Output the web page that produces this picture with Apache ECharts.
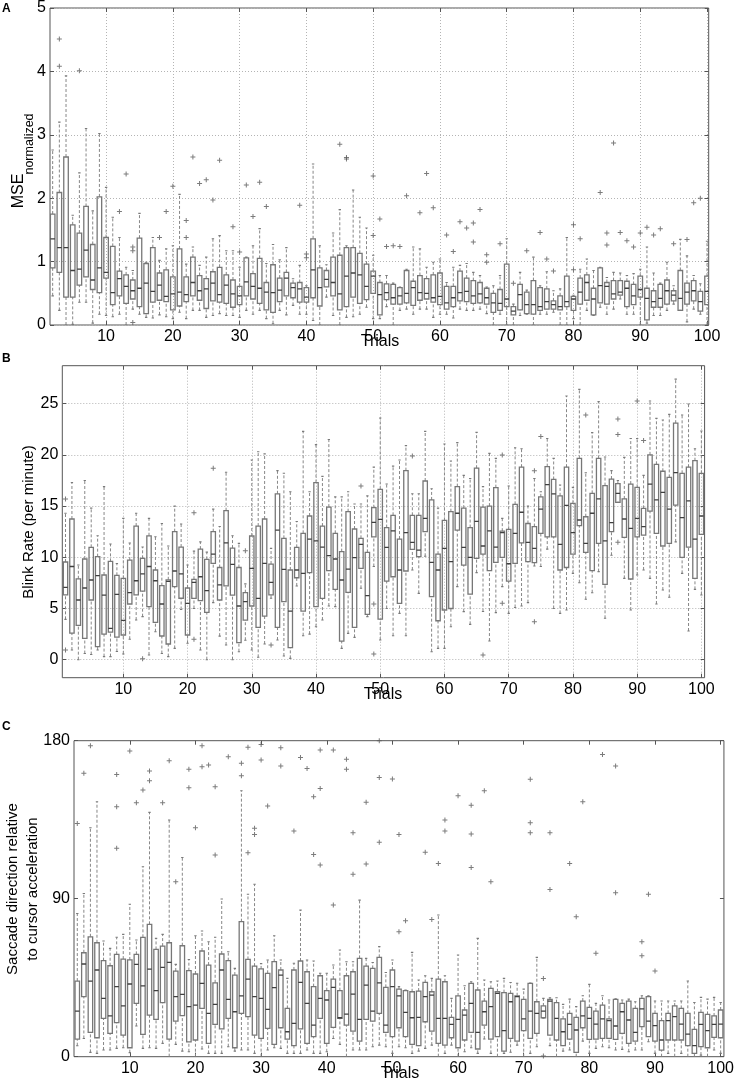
<!DOCTYPE html>
<html><head><meta charset="utf-8">
<script src="https://cdn.jsdelivr.net/npm/echarts@6/dist/echarts.min.js"></script>
<style>html,body{margin:0;padding:0;background:#fff}#c{width:737px;height:1082px}</style>
</head><body><div id="c"></div>
<script>
// ---------- data ----------
const trials = []; for (let t = 1; t <= 100; t++) trials.push(t);
const xTickValues = [10,20,30,40,50,60,70,80,90,100];
const aYTicks = [0,1,2,3,4,5];
const bYTicks = [0,5,10,15,20,25];
const cYTicks = [0,90,180];

// Panel A: MSE normalized
const aLow = [0.45,0.46,0.23,0.0,0.01,0.36,0.36,0.03,0.17,0.15, 0.13,0.17,0.0,0.25,0.17,0.12,0.11,0.16,0.13,0.10, 0.20,0.10,0.23,0.23,0.12,0.15,0.18,0.15,0.15,0.12, 0.23,0.17,0.23,0.10,0.02,0.23,0.16,0.31,0.17,0.17, 0.07,0.0,0.44,0.15,0.0,0.12,0.13,0.17,0.28,0.10, 0.10,0.29,0.0,0.23,0.25,0.17,0.25,0.25,0.12,0.17, 0.17,0.11,0.25,0.23,0.23,0.25,0.18,0.0,0.17,0.0, 0.0,0.15,0.17,0.0,0.17,0.17,0.20,0.0,0.0,0.10, 0.0,0.23,0.15,0.28,0.17,0.25,0.41,0.17,0.17,0.0, 0.03,0.15,0.15,0.23,0.33,0.23,0.05,0.25,0.17,0.0];
const aQ1 = [0.95,0.90,0.83,0.44,0.44,0.63,0.76,0.56,0.51,0.74, 0.32,0.46,0.34,0.41,0.29,0.18,0.36,0.39,0.37,0.24, 0.30,0.37,0.46,0.39,0.26,0.38,0.36,0.34,0.28,0.32, 0.46,0.41,0.34,0.24,0.20,0.37,0.46,0.43,0.36,0.36, 0.43,0.30,0.60,0.46,0.24,0.29,0.44,0.34,0.40,0.50, 0.16,0.40,0.33,0.33,0.35,0.31,0.39,0.41,0.36,0.32, 0.25,0.29,0.38,0.37,0.34,0.35,0.33,0.20,0.23,0.29, 0.16,0.24,0.18,0.17,0.23,0.25,0.25,0.24,0.29,0.23, 0.33,0.39,0.16,0.35,0.33,0.41,0.47,0.29,0.32,0.44, 0.08,0.28,0.28,0.33,0.38,0.23,0.33,0.38,0.22,0.32];
const aMed = [1.30,1.36,1.22,1.22,0.86,0.88,1.18,0.71,0.90,0.83, 0.51,0.73,0.61,0.54,0.58,0.66,0.53,0.63,0.45,0.49, 0.52,0.48,0.67,0.54,0.57,0.66,0.48,0.63,0.49,0.46, 0.68,0.61,0.58,0.52,0.51,0.55,0.74,0.59,0.57,0.44, 0.87,0.59,0.72,0.67,0.49,0.77,0.82,0.79,0.61,0.77, 0.48,0.51,0.43,0.46,0.50,0.59,0.51,0.50,0.43,0.45, 0.35,0.43,0.51,0.53,0.46,0.49,0.43,0.35,0.34,0.41, 0.22,0.48,0.32,0.32,0.29,0.37,0.32,0.29,0.37,0.41, 0.52,0.67,0.41,0.62,0.61,0.49,0.52,0.58,0.46,0.56, 0.42,0.37,0.42,0.54,0.47,0.42,0.52,0.54,0.37,0.53];
const aQ3 = [1.80,1.75,2.09,2.65,1.58,1.45,1.87,1.27,2.02,1.38, 1.24,0.85,0.79,0.71,1.37,0.97,1.22,0.82,0.87,0.76, 1.20,0.76,1.07,0.78,0.73,0.84,0.91,0.79,0.71,0.61, 1.06,0.81,1.05,0.67,0.95,0.74,0.83,0.66,0.67,0.59, 1.36,0.90,0.86,1.07,1.10,1.22,1.22,1.13,0.96,0.85, 0.67,0.65,0.64,0.59,0.86,0.69,0.78,0.73,0.79,0.82, 0.61,0.61,0.85,0.74,0.70,0.67,0.58,0.50,0.56,0.96, 0.29,0.64,0.52,0.70,0.59,0.57,0.38,0.46,0.77,0.45, 0.74,0.79,0.58,0.90,0.67,0.70,0.70,0.69,0.64,0.77, 0.58,0.54,0.64,0.71,0.54,0.86,0.66,0.70,0.53,0.77];
const aHigh = [2.80,2.76,3.20,3.93,1.73,2.40,3.10,1.80,3.02,2.17, 1.70,1.38,0.91,0.86,1.76,0.99,1.38,1.02,1.20,1.25, 2.06,0.96,1.23,0.94,1.07,1.36,1.41,1.17,1.17,0.91, 1.07,1.25,1.52,0.97,1.27,1.03,1.22,0.73,0.94,0.62, 2.54,1.25,0.95,1.45,1.82,1.25,2.13,1.70,1.53,1.10, 0.78,0.78,0.66,0.60,0.88,1.23,1.20,0.91,0.99,1.04, 0.67,0.91,0.94,0.97,0.83,0.78,0.60,0.62,0.78,1.36, 0.33,0.83,0.55,1.07,0.62,0.84,0.54,0.57,1.38,0.47, 0.88,1.04,0.86,0.91,0.75,0.83,0.82,0.78,0.81,0.88, 1.23,0.82,0.66,0.99,0.62,1.35,1.09,0.78,0.65,1.32];
const aOut = [[3,4.08],[3,4.51],[6,4.01],[12,1.79],[13,2.38],[14,1.17],[14,1.23],[14,0.04],[18,1.38],[19,1.79],[20,2.19],[22,1.38],[22,1.65],[23,2.65],[24,2.23],[25,2.29],[26,1.97],[27,2.60],[29,1.55],[30,1.15],[31,2.21],[32,1.71],[33,2.25],[34,1.87],[39,1.89],[40,1.06],[40,1.12],[45,2.85],[46,2.62],[46,2.64],[50,1.41],[50,2.35],[51,1.67],[52,1.24],[53,1.25],[54,1.24],[55,2.04],[57,1.77],[58,2.39],[59,1.85],[61,1.42],[62,1.16],[63,1.63],[64,1.53],[65,1.31],[65,1.61],[66,1.82],[67,0.99],[67,1.11],[69,1.28],[71,0.66],[73,1.17],[75,1.46],[76,1.04],[77,0.85],[80,0.87],[80,1.58],[81,1.36],[84,2.09],[85,1.26],[85,1.45],[86,2.87],[87,1.46],[88,1.33],[89,1.23],[90,1.45],[91,1.54],[92,1.42],[93,1.52],[95,1.28],[97,1.35],[98,1.93],[99,2.00]];

// Panel B: Blink rate
const bLow = [3.94,0.94,0,0.6,0.5,0.94,0.3,0.3,0.8,0.55, 2.0,3.87,4.2,0.46,2.73,0.6,0.3,1.1,4.9,1.6, 5.0,0.94,0,5.57,2.3,1.43,0,0.78,1.9,0.94, 0.23,1.53,6.0,1.92,0.36,0.13,7.2,2.34,2.5,3.22, 3.87,5.24,5.18,1.1,2.57,2.18,6.97,4.2,9.1,1.92, 5.0,2.34,4.52,2.34,8.76,6.48,10.1,0.78,1.1,1.1, 3.22,7.13,4.69,3.45,8.5,4.7,1.82,4.6,7.13,4.52, 5.1,5.24,5.57,9.15,9.1,10.8,5.0,4.52,4.85,8.43, 7.52,5.9,6.54,8.6,4.04,10.2,15.36,7.94,4.85,8.27, 8.76,7.94,5.44,6.8,6.09,11.5,8.43,2.8,6.87,6.32];
const bQ1 = [6.32,2.6,3.35,2.08,5.83,1.27,2.5,2.7,2.2,2.41, 5.44,6.32,6.7,5.18,3.65,2.31,1.53,7.13,6.0,2.41, 5.99,5.76,4.62,9.4,5.83,7.2,6.3,1.66,3.87,5.24, 3.16,4.26,6.32,3.16,5.66,1.17,8.0,4.75,8.5,5.18, 5.99,8.7,6.87,1.82,6.58,3.16,8.92,4.43,12.0,3.97, 7.68,8.1,5.5,8.66,10.77,10.06,12.5,6.15,3.8,4.85, 5.0,12.66,9.24,6.41,9.9,10.3,8.7,9.5,10.0,7.68, 9.4,11.4,9.57,9.47,12.34,12.0,12.0,8.76,9.0,10.3, 13.1,10.48,8.7,11.36,7.36,12.5,15.36,11.95,7.88,12.0, 12.17,14.5,12.34,11.1,11.36,15.1,10.0,11.0,7.94,12.24];
const bMed = [7.06,9.1,5.83,7.0,7.78,8.2,6.3,3.06,6.38,3.84, 6.54,7.71,8.37,9.1,7.71,5.44,7.65,8.66,8.37,5.5, 7.55,8.1,6.74,10.3,7.3,11.4,9.3,5.24,5.66,8.92, 5.99,9.4,7.55,12.66,8.82,4.75,8.76,8.43,11.78,11.6, 11.0,10.16,9.83,7.78,8.85,9.96,11.26,6.25,13.4,13.7, 10.97,12.57,8.76,12.4,11.46,10.7,13.8,9.5,8.76,10.87, 9.57,14.3,10.97,10.0,13.5,11.1,12.57,11.0,12.4,9.37, 12.34,14.4,11.46,10.87,14.7,17.1,16.2,11.26,15.07,12.4, 13.64,11.36,14.3,15.7,11.6,13.38,16.24,13.74,12.83,13.8, 13.0,17.15,15.6,16.34,14.7,18.26,13.87,15.5,11.78,14.03];
const bQ3 = [9.54,13.74,7.9,9.83,10.97,10.06,8.27,9.6,8.24,7.94, 9.73,13.05,9.9,12.1,8.76,7.23,7.8,12.5,11.0,7.0, 7.85,10.8,9.8,12.5,9.0,14.55,10.9,9.0,6.54,12.08, 13.05,13.74,9.34,16.2,11.85,8.76,10.97,12.34,14.03,17.3, 13.05,14.9,12.34,10.55,14.45,12.76,11.85,10.48,14.84,16.63, 12.9,14.1,11.78,18.46,14.1,14.1,17.45,15.6,10.3,13.6, 14.45,16.9,14.8,12.9,18.7,14.9,15.0,16.8,12.55,12.73, 15.17,18.8,13.3,13.0,15.9,18.85,17.6,16.0,18.8,15.27, 19.66,13.96,16.24,19.66,17.0,17.64,17.2,15.7,17.15,16.83, 14.78,20.0,19.08,18.4,17.8,23.1,18.2,18.8,19.43,18.2];
const bHigh = [14.3,17.3,9.24,17.5,14.8,12.1,16.9,11.3,9.4,13.8, 11.4,14.3,11.0,13.8,12.0,13.3,11.1,15.0,13.25,9.24, 10.6,11.5,10.5,14.7,13.0,18.3,12.1,11.36,7.4,19.5, 20.3,20.1,10.87,18.46,18.2,16.4,13.5,22.3,16.4,21.0, 17.9,21.5,15.9,15.9,16.4,15.2,15.2,16.0,18.8,23.6, 17.15,18.9,19.5,20.9,16.2,16.2,22.3,16.7,14.8,21.06, 19.4,21.2,18.0,17.7,22.2,16.9,20.15,19.66,13.8,16.96, 20.7,20.6,15.0,17.7,16.4,21.6,19.66,17.06,25.75,16.83, 26.4,18.26,22.17,25.2,19.8,18.46,17.5,19.76,21.6,21.6, 18.0,25.26,23.57,23.4,23.96,27.4,23.9,24.97,20.6,22.33];
const bOut = [[1,15.7],[1,0.94],[13,0.1],[21,14.36],[21,1.99],[24,18.7],[29,10.64],[33,1.43],[47,16.96],[49,5.44],[49,0.55],[55,19.9],[66,0.46],[69,20.0],[69,5.5],[74,18.46],[74,3.71],[75,21.8],[82,23.9],[87,23.5],[87,22.0],[87,11.46],[90,25.26],[91,21.4]];

// Panel C: Saccade direction
const cLow = [5,6.27,10.4,2.47,1.9,3.8,3.8,4.75,5.1,2.3, 17.5,4.75,5.1,4.75,7.6,0,7.0,3.2,2.8,0, 4.4,1.9,1.9,1.9,5.7,3.2,3.8,3.8,1.9,0, 3.8,5.1,4.75,1.9,1.9,1.9,3.8,1.9,1.9,2.8, 10.4,7.0,0,3.8,3.8,3.8,5.7,6.6,5.7,1.9, 5.7,5.1,1.9,3.2,4.75,6.6,0,1.9,6.6,0, 2.8,5.1,1.9,10.06,1.9,0,1.9,2.5,6.6,0, 1.9,5.7,22.0,6.3,0,3.2,3.8,0,8.9,1.9, 4.75,5.7,5.1,3.8,4.2,2.8,3.8,3.8,8.5,1.9, 0,1.9,0,1.9,0,0,0.9,0,3.8,1.9];
const cQ1 = [12,10.06,34.2,13.86,10.8,21.8,13.3,19.4,12.3,5.1, 30.4,12.7,23.7,21.3,30.8,10.06,20.3,23.4,8.5,9.5, 27.5,7.6,18.4,15.8,21.8,5.1,24.7,22.8,12.3,10.4, 16.1,7.0,16.5,10.06,6.3,15.8,7.6,11.4,21.8,7.6, 16.7,21.8,18.0,14.6,8.9,21.3,20.3,24.7,13.86,11.4, 16.5,11.4,7.0,6.3,19.9,14.6,7.6,6.6,10.8,5.1, 9.5,13.86,4.4,18.0,10.06,11.4,3.2,10.4,8.9,14.8, 10.4,13.3,22.2,12.3,9.5,6.3,10.06,2.5,16.5,9.9, 10.06,10.4,10.4,9.9,13.3,7.6,8.9,17.1,11.4,8.9, 3.8,9.5,9.5,9.5,6.3,1.9,5.7,5.1,11.0,10.8];
const cMed = [28,26.0,52.8,43.1,49.4,33.2,23.2,39.9,28.9,41.4, 52.6,40.3,49.9,37.6,50.9,53.7,34.2,35.5,28.5,29.4, 41.8,24.7,29.8,49.4,32.7,25.6,34.7,44.2,34.2,33.2, 27.0,39.3,46.5,14.2,19.0,42.3,30.4,18.0,33.2,32.3, 39.5,22.2,24.3,35.7,21.3,40.8,26.0,42.1,18.0,39.9, 34.7,25.3,22.2,22.4,34.2,35.1,21.8,21.8,18.4,21.3, 23.7,30.4,13.86,25.6,28.5,36.1,14.8,31.3,34.2,21.5, 26.0,24.7,26.0,31.7,21.8,14.2,18.4,15.2,23.2,21.8, 18.6,21.5,20.5,17.5,25.6,20.9,13.86,27.2,20.3,17.7, 9.5,20.5,22.8,18.6,12.9,6.3,18.4,14.8,18.4,18.6];
const cQ3 = [45,43.1,59.2,68.3,64.9,54.7,51.8,58.3,55.6,55.1, 58.3,68.0,75.4,61.1,63.0,64.9,48.8,63.2,49.0,47.1, 60.2,52.2,42.1,58.5,54.7,46.5,76.9,55.4,51.6,50.0, 47.5,54.1,49.4,27.5,49.4,54.5,48.4,39.9,46.1,37.6, 44.2,37.6,46.1,48.4,56.0,51.6,50.3,56.6,39.5,49.4, 38.5,37.6,37.0,37.4,42.3,37.0,44.2,42.7,22.4,34.6, 26.6,41.8,38.0,31.7,38.9,37.0,36.5,36.1,34.7,32.7, 41.8,31.3,28.9,32.7,30.8,21.5,24.7,22.4,31.7,28.1, 26.0,29.4,21.5,32.7,30.4,31.7,27.5,33.2,34.2,24.7, 20.5,24.7,28.9,27.5,24.7,15.6,25.3,24.1,23.2,26.6];
const cHigh = [85,81.6,93.0,130.4,145.2,65.9,61.7,68.0,69.7,86.8, 66.5,108.2,139.2,67.4,69.7,134.8,52.6,113.5,55.4,68.9, 71.6,65.5,68.0,89.8,59.8,50.3,151.5,92.5,98.2,53.0, 55.1,68.9,55.1,44.6,53.2,83.5,55.1,54.5,47.5,47.5, 52.2,60.8,54.1,54.1,89.2,56.0,53.7,62.7,48.0,55.1, 39.9,38.0,59.4,43.7,46.1,44.6,80.7,46.1,33.2,57.9, 40.4,42.7,67.4,43.7,42.7,43.1,44.6,42.3,41.8,38.5, 42.0,56.6,33.2,33.6,33.6,29.8,32.8,28.5,34.7,41.2, 30.4,34.7,32.3,33.0,32.3,32.8,31.3,34.7,34.7,31.7, 31.7,31.7,31.7,31.7,43.1,30.9,33.8,32.8,33.8,30.9];
const cOut = [[2,132.9],[3,161.4],[4,177.1],[8,160.8],[8,142.4],[8,118.7],[10,174.1],[11,144.7],[12,151.9],[13,162.7],[13,157.2],[15,144.7],[16,168.6],[17,99.7],[19,163.7],[19,153.2],[20,130.4],[21,177.1],[21,165.2],[22,166.1],[23,153.8],[23,114.9],[25,170.9],[27,167.1],[27,160.0],[28,176.2],[28,116.2],[29,130.1],[29,126.6],[30,177.9],[30,169.0],[31,142.8],[33,176.0],[33,165.6],[35,128.5],[36,170.5],[37,164.2],[38,148.1],[38,115.2],[39,174.7],[39,152.8],[39,109.2],[41,174.7],[41,86.4],[43,169.4],[43,163.7],[44,127.6],[44,103.9],[46,144.9],[46,109.7],[48,180.0],[48,159.1],[48,122.1],[50,158.2],[51,126.6],[51,71.2],[52,77.5],[55,116.4],[56,78.2],[57,110.1],[58,134.8],[58,128.5],[60,148.7],[62,143.3],[62,126.8],[62,107.8],[64,151.5],[65,99.7],[71,158.0],[71,133.3],[71,127.6],[73,44.6],[73,0.4],[74,127.6],[74,95.3],[77,110.1],[78,79.7],[79,145.2],[81,58.9],[82,172.2],[84,165.6],[84,93.4],[88,65.5],[88,57.5],[89,92.5],[90,48.8]];

// ---------- chart ----------
const FONT = "'Liberation Sans', Arial, Helvetica, sans-serif";
const panels = [
  {grid:{left:50, top:7, width:658.7, height:318}, xMin:1.6, xMax:100.25, yMin:0, yMax:5, yTicks:aYTicks, split:true,
   low:aLow, q1:aQ1, med:aMed, q3:aQ3, high:aHigh, out:aOut},
  {grid:{left:62.3, top:365.7, width:642.3, height:312}, xMin:0.5, xMax:100.5, yMin:-1.76, yMax:28.71, yTicks:bYTicks, split:true,
   low:bLow, q1:bQ1, med:bMed, q3:bQ3, high:bHigh, out:bOut},
  {grid:{left:74, top:740.7, width:650.7, height:316}, xMin:1.5, xMax:100.5, yMin:0, yMax:180, yTicks:cYTicks, split:false,
   low:cLow, q1:cQ1, med:cMed, q3:cQ3, high:cHigh, out:cOut}
];

const tickStyle = {color:'#555', width:1};
const splitStyle = {color:'#b4b4b4', type:[1,2], width:1};
const labelStyle = {fontFamily:FONT, fontSize:16, color:'#000'};

const grids = [], xAxes = [], yAxes = [], series = [];
panels.forEach((p, i) => {
  grids.push(Object.assign({show:true, borderColor:'#555', borderWidth:1, backgroundColor:'#fff', containLabel:false}, p.grid));
  xAxes.push({type:'value', gridIndex:i, min:p.xMin, max:p.xMax, position:'bottom',
    axisLine:{show:false, onZero:false},
    axisTick:{show:true, inside:true, length:4, customValues:xTickValues, lineStyle:tickStyle},
    axisLabel:Object.assign({show:true, margin:4, customValues:xTickValues}, labelStyle),
    splitLine:{show:p.split, lineStyle:splitStyle}});
  yAxes.push({type:'value', gridIndex:i, min:p.yMin, max:p.yMax, position:'left',
    axisLine:{show:false, onZero:false},
    axisTick:{show:true, inside:true, length:4, customValues:p.yTicks, lineStyle:tickStyle},
    axisLabel:Object.assign({show:true, margin:4, customValues:p.yTicks}, labelStyle),
    splitLine:{show:p.split, lineStyle:splitStyle}});
});
panels.forEach((p, i) => {
  xAxes.push({type:'value', gridIndex:i, min:p.xMin, max:p.xMax, position:'top',
    axisLine:{show:false, onZero:false},
    axisTick:{show:true, inside:true, length:4, customValues:xTickValues, lineStyle:tickStyle},
    axisLabel:{show:false}, splitLine:{show:false}});
  yAxes.push({type:'value', gridIndex:i, min:p.yMin, max:p.yMax, position:'right',
    axisLine:{show:false, onZero:false},
    axisTick:{show:true, inside:true, length:4, customValues:p.yTicks, lineStyle:tickStyle},
    axisLabel:{show:false}, splitLine:{show:false}});
});

function renderBox(params, api) {
  const x = api.value(0);
  const v = [api.value(1), api.value(2), api.value(3), api.value(4), api.value(5)];
  const unit = api.size([1, 0])[0];
  const half = unit * 0.34, cap = unit * 0.18;
  const pt = v.map(val => api.coord([x, val]));
  const cx = pt[0][0];
  const cs = params.coordSys;
  const ws = {stroke:'#878787', lineWidth:1, lineDash:[3,2]};
  const ss = {stroke:'#7a7a7a', lineWidth:1.1};
  return {
    type:'group',
    clipPath:{type:'rect', shape:{x:cs.x, y:cs.y, width:cs.width, height:cs.height}},
    children:[
      {type:'line', shape:{x1:cx, y1:pt[3][1], x2:cx, y2:pt[4][1]}, style:ws},
      {type:'line', shape:{x1:cx, y1:pt[0][1], x2:cx, y2:pt[1][1]}, style:ws},
      {type:'line', shape:{x1:cx-cap, y1:pt[4][1], x2:cx+cap, y2:pt[4][1]}, style:ss},
      {type:'line', shape:{x1:cx-cap, y1:pt[0][1], x2:cx+cap, y2:pt[0][1]}, style:ss},
      {type:'rect', shape:{x:cx-half, y:pt[3][1], width:2*half, height:pt[1][1]-pt[3][1]},
        style:{fill:'rgba(255,255,255,0)', stroke:'#777', lineWidth:1.3}},
      {type:'line', shape:{x1:cx-half, y1:pt[2][1], x2:cx+half, y2:pt[2][1]}, style:{stroke:'#3f3f3f', lineWidth:1.3}}
    ]
  };
}

const PLUS = 'path://M2,0H3V2H5V3H3V5H2V3H0V2H2Z';
panels.forEach((p, i) => {
  const data = trials.map((t, k) => [t, p.low[k], p.q1[k], p.med[k], p.q3[k], p.high[k]]);
  series.push({type:'custom', xAxisIndex:i, yAxisIndex:i, renderItem:renderBox, data:data,
    encode:{x:0, y:[1,2,3,4,5]}, silent:true, animation:false});
  series.push({type:'scatter', xAxisIndex:i, yAxisIndex:i, data:p.out, symbol:PLUS, symbolSize:5,
    itemStyle:{color:'#5a5a5a'}, clip:true, silent:true, animation:false});
});

function vtext(x, y, text, size) {
  return {type:'text', x:x, y:y, rotation:Math.PI/2, silent:true,
    style:{text:text, fontFamily:FONT, fontSize:size, fill:'#000', align:'center', verticalAlign:'middle'}};
}
function htext(x, y, text, size, weight, align) {
  return {type:'text', x:x, y:y, silent:true,
    style:{text:text, fontFamily:FONT, fontSize:size, fontWeight:weight||'normal', fill:'#000', align:align||'center', verticalAlign:'middle'}};
}

const graphics = [
  htext(2, 9, 'A', 12, 'bold', 'left'),
  htext(2, 359, 'B', 12, 'bold', 'left'),
  htext(2, 727, 'C', 12, 'bold', 'left'),
  vtext(19, 191, 'MSE', 16),
  vtext(30, 144, 'normalized', 12.5),
  vtext(29, 522, 'Blink Rate (per minute)', 15),
  vtext(13, 889, 'Saccade direction relative', 15),
  vtext(33, 889, 'to cursor acceleration', 15),
  htext(380, 342, 'Trials', 16),
  htext(383, 695, 'Trials', 16),
  htext(400, 1074, 'Trials', 16)
];

const chart = echarts.init(document.getElementById('c'), null, {renderer:'canvas'});
chart.setOption({
  animation:false,
  backgroundColor:'#fff',
  grid:grids, xAxis:xAxes, yAxis:yAxes, series:series,
  graphic:graphics
});
</script>
</body></html>
